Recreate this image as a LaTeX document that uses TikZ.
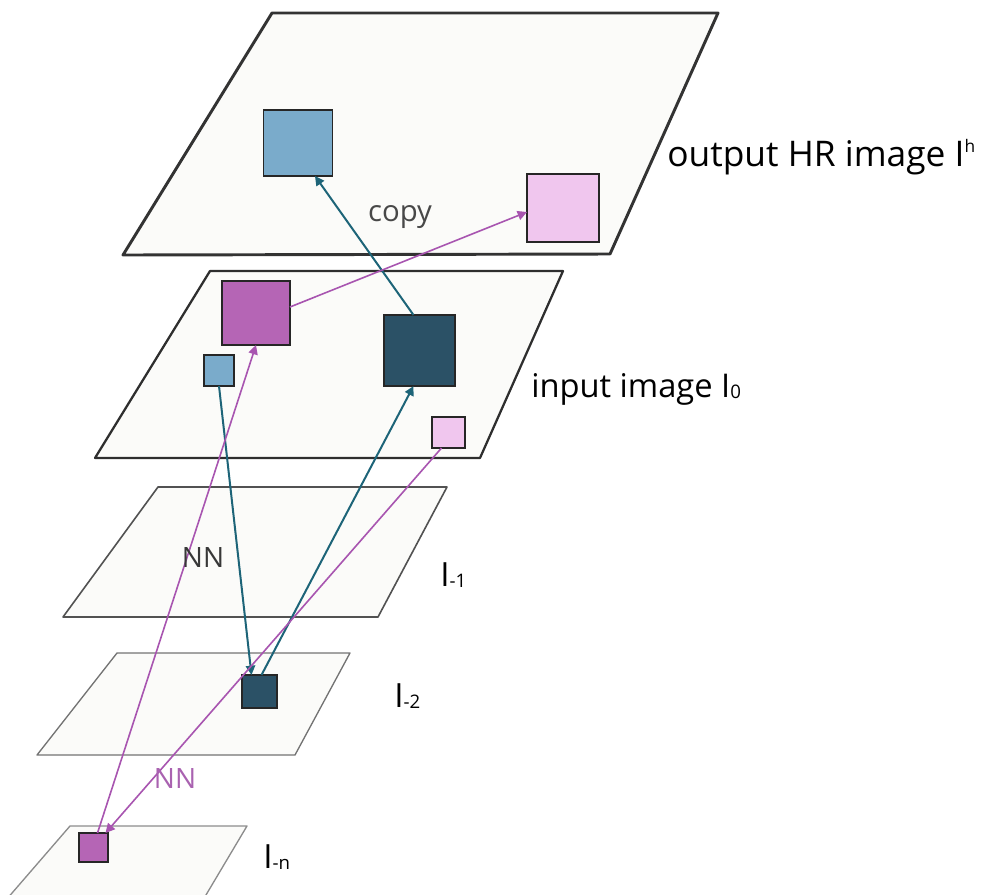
\documentclass[tikz,border=0pt]{standalone}
\usepackage{fontspec}
\setmainfont{Open Sans}
\usetikzlibrary{arrows.meta,calc}

\definecolor{planefill}{HTML}{FBFBF9}
\definecolor{tealline}{HTML}{1D6478}
\definecolor{purpline}{HTML}{A855B0}
\definecolor{sqblue}{HTML}{7AABCB}
\definecolor{sqdark}{HTML}{2B5166}
\definecolor{sqpurple}{HTML}{B565B5}
\definecolor{sqpink}{HTML}{F0C6EE}
\definecolor{labelgray}{HTML}{484848}
\definecolor{nnpurple}{HTML}{A962B0}

\newcommand{\lvl}[1]{I{\fontsize{14}{14}\selectfont\raisebox{-1pt}{#1}}}

\tikzset{
  plane/.style={fill=planefill, line join=round},
  patch/.style={draw=black!85, line width=1.3pt, inner sep=0pt, outer sep=0pt},
  tealarrow/.style={draw=tealline, line width=1.5pt,
    -{Triangle[length=7pt,width=7pt]}},
  purparrow/.style={draw=purpline, line width=1.2pt,
    -{Triangle[length=7pt,width=7pt]}},
  biglabel/.style={anchor=base west, inner sep=0pt},
  lvllabel/.style={font=\fontsize{25}{28}\selectfont, anchor=base west, inner sep=0pt},
}

\begin{document}
\begin{tikzpicture}[x=0.75pt,y=-0.75pt]
\useasboundingbox (0,0) rectangle (983,894);
\clip (0,0) rectangle (983,894);

% pyramid levels, from the output image down to the coarsest level
\path[plane, draw=black!80, line width=2.2pt]
  (272,13) -- (718,13) -- (610,254) -- (123,255) -- cycle;
\path[plane, draw=black!82, line width=1.7pt]
  (210,271) -- (563,271) -- (480,458) -- (95,458) -- cycle;
\path[plane, draw=black!68, line width=1.2pt]
  (158,487) -- (447,487) -- (378,617) -- (63,617) -- cycle;
\path[plane, draw=black!55, line width=1pt]
  (117,653) -- (350,653) -- (295,755) -- (37,755) -- cycle;
\path[plane, draw=black!45, line width=1pt]
  (70,826) -- (247,826) -- (203,900) -- (6,900) -- cycle;

% image patches
\node[patch, fill=sqblue,   minimum width=69pt*0.75, minimum height=66pt*0.75] (hrBlue)    at (298,143) {};
\node[patch, fill=sqpink,   minimum width=72pt*0.75, minimum height=68pt*0.75] (hrPink)    at (563,208) {};
\node[patch, fill=sqpurple, minimum width=68pt*0.75, minimum height=64pt*0.75] (inPurple)  at (256,313) {};
\node[patch, fill=sqblue,   minimum width=30pt*0.75, minimum height=31pt*0.75] (inBlue)    at (219,370.5) {};
\node[patch, fill=sqdark,   minimum width=71pt*0.75, minimum height=71pt*0.75] (inDark)    at (419.5,350.5) {};
\node[patch, fill=sqpink,   minimum width=33pt*0.75, minimum height=31pt*0.75] (inPink)    at (448.5,432.5) {};
\node[patch, fill=sqdark,   minimum width=35pt*0.75, minimum height=33pt*0.75] (lowDark)   at (259.5,691.5) {};
\node[patch, fill=sqpurple, minimum width=29pt*0.75, minimum height=29pt*0.75] (nPurple)   at (93.5,847.5) {};

% nearest-neighbour searches and copies
\draw[tealarrow] (inBlue.south) -- ($(lowDark.north)+(-8,0)$);
\draw[tealarrow] ($(lowDark.north)+(2,0)$) -- ($(inDark.south)+(-6,0)$);
\draw[tealarrow] ($(inDark.north)+(-6,0)$) -- ($(hrBlue.south)+(17,0)$);
\draw[purparrow] ($(inPurple.east)+(0,-6)$) -- ($(hrPink.west)+(0,4)$);
\draw[purparrow] ($(nPurple.north)+(4,0)$) -- (inPurple.south);
\draw[purparrow] ($(inPink.south)+(-7,0)$) -- ($(nPurple.north)+(12,0)$);

% labels
\node[font=\fontsize{22}{24}\selectfont, text=labelgray] (copy) at (400,217) {copy};
\node[font=\fontsize{21}{24}\selectfont, text=black!78] (nn1) at (203,557) {NN};
\node[font=\fontsize{21}{24}\selectfont, text=nnpurple] (nn2) at (175,778) {NN};

\node[biglabel, font=\fontsize{26.5}{30}\selectfont] (outLbl) at (667,166)
  {output HR image I{\fontsize{13}{13}\selectfont\raisebox{10pt}{h}}};
\node[biglabel, font=\fontsize{24.5}{28}\selectfont] (inLbl) at (531,397)
  {input image I{\fontsize{14}{14}\selectfont\raisebox{-1pt}{0}}};
\node[lvllabel] (l1) at (440,586) {\lvl{-1}};
\node[lvllabel] (l2) at (394,707) {\lvl{-2}};
\node[lvllabel] (ln) at (263,868) {\lvl{-n}};
\end{tikzpicture}
\end{document}
